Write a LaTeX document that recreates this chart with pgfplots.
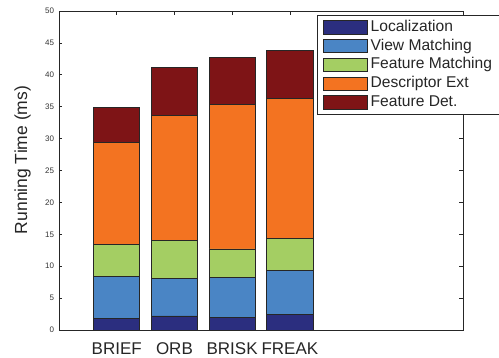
\documentclass[border=0pt]{standalone}
\usepackage{pgfplots}
\pgfplotsset{compat=1.18}
\usepackage{fontspec}
\setmainfont{Liberation Sans}
\definecolor{cLoc}{HTML}{2B2E7F}
\definecolor{cVM}{HTML}{4A85C5}
\definecolor{cFM}{HTML}{A4CE63}
\definecolor{cDE}{HTML}{F37321}
\definecolor{cFD}{HTML}{7E1416}
\newcommand{\lf}{\fontsize{15.6}{17}\selectfont}
\begin{document}
\begin{tikzpicture}
\begin{axis}[
  name=ax, at={(0,0)}, anchor=south west,
  width=404pt, height=319pt, scale only axis,
  ybar stacked, bar width=0.8,
  xmin=0, xmax=7, ymin=0, ymax=50,
  xtick={1,2,3,4}, xticklabels={BRIEF,ORB,BRISK,FREAK},
  ytick={0,5,...,50},
  tick align=inside, major tick length=3.5pt,
  xtick pos=both, ytick pos=both,
  axis line style={line width=0.9pt, black!85},
  every tick/.style={black!85, line width=0.7pt},
  /pgf/number format/assume math mode=true,
  yticklabel style={font=\fontsize{8}{9}\selectfont, xshift=-1.5pt, text=black!80},
  xticklabel style={font=\fontsize{17}{19}\selectfont, anchor=base, yshift=-24pt, text=black!85},
  ylabel={Running Time (ms)},
  every axis y label/.style={at={(axis description cs:0,0.533)}, xshift=-36.5pt, rotate=90, anchor=center,
    font=\fontsize{17.5}{20}\selectfont, text=black!85},
  every axis plot/.append style={draw=black!85, line width=0.8pt,
    legend image code/.code={\draw[##1, line width=0.8pt] (0pt,-6.6pt) rectangle (44pt,6.6pt);}},
  legend cell align=left,
  legend style={at={(axis cs:4.47,49.37)}, anchor=north west,
    draw=black!85, line width=0.8pt,
    inner xsep=6pt, inner ysep=4.5pt, row sep=3.75pt,
    nodes={inner xsep=2.5pt, inner ysep=0.5pt, text height=11pt, text depth=3pt, text=black!85}},
]
\addplot[fill=cLoc] coordinates {(1,1.8) (2,2.2) (3,2.0) (4,2.45)};
\addplot[fill=cVM] coordinates {(1,6.55) (2,5.9) (3,6.25) (4,6.9)};
\addplot[fill=cFM] coordinates {(1,5.05) (2,5.9) (3,4.45) (4,5.05)};
\addplot[fill=cDE] coordinates {(1,16.0) (2,19.6) (3,22.7) (4,21.9)};
\addplot[fill=cFD] coordinates {(1,5.45) (2,7.6) (3,7.3) (4,7.5)};
\legend{{\lf Localization}, {\lf View Matching}, {\lf Feature Matching\hspace{25pt}}, {\lf Descriptor Ext}, {\lf Feature Det.}}
\end{axis}
\pgfresetboundingbox
\path (-59pt,-27pt) rectangle (440pt,330pt);
\end{tikzpicture}
\end{document}
